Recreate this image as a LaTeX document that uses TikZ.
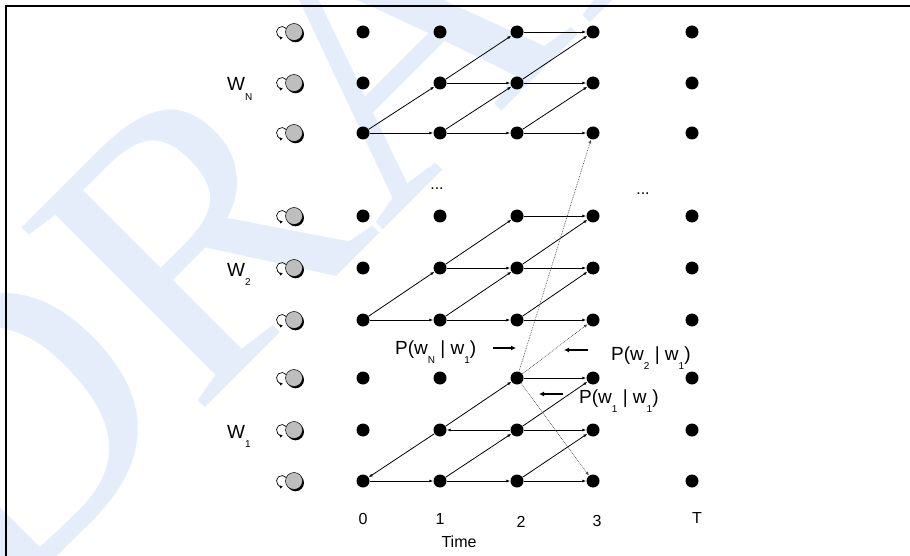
\documentclass[tikz,border=0pt]{standalone}
\usepackage{fontspec}
\setmainfont{Liberation Sans}
\newfontfamily\draftfont{Liberation Serif}
\usetikzlibrary{arrows.meta}
\definecolor{draftblue}{HTML}{E5EDFB}
\definecolor{ballgray}{HTML}{BEBEBE}
\newcommand{\lowsub}[1]{\raisebox{-9.5pt}{\fontsize{10}{10}\selectfont #1}}

\begin{document}
\begin{tikzpicture}[x=1pt, y=-1pt,
    dot/.style={circle, fill=black, inner sep=0pt, minimum size=13pt},
    trans/.style={-{Latex[length=4pt,width=3pt]}, line width=0.8pt},
    jump/.style={-{Latex[length=4pt,width=3pt]}, densely dotted, line width=0.7pt, draw=black!70},
    pointer/.style={-{Latex[length=5pt,width=5pt]}, line width=1.8pt},
    word/.style={font=\fontsize{19}{19}\selectfont, inner sep=0pt, anchor=base west},
    timelbl/.style={font=\fontsize{16}{16}\selectfont, inner sep=0pt, anchor=base},
    selfloop/.pic={
      \draw[line width=0.7pt, -{Latex[length=3pt,width=3.5pt]}] (-7.8,-3.5) arc[start angle=-40, end angle=-280, radius=5.5];
      \fill[black] (1.5,1.8) circle (8.5);
      \filldraw[fill=ballgray, draw=black, line width=0.5pt] (0,0) circle (8.5);
    }
  ]
  \useasboundingbox (0,0) rectangle (910,556);
  % watermark
  \begin{scope}
    \clip (0,0) rectangle (910,556);
    \node[font=\draftfont\fontsize{392}{392}\selectfont, text=draftblue, inner sep=0pt, rotate=45, anchor=base west] (draft) at (-5,618) {DRAFT};
  \end{scope}
  \draw[line width=2.5pt] (6,560) -- (6,6) -- (914,6);

  % states and time slices
  \foreach \y [count=\i] in {481,430,378,320,268,216,133,83,32} {
    \pic (loop\i) at (294,\y) {selfloop};
    \foreach \x/\c in {363/0,440/1,517/2,593/3,692/T}
      \node[dot] (r\i-\c) at (\x,\y) {};
  }

  % words W_2 and W_N
  \foreach \b in {4,7} {
    \foreach \ta/\tb in {0/1,1/2,2/3} {
      \foreach \j in {0,...,\ta} {
        \pgfmathtruncatemacro{\lo}{\b+\j}
        \pgfmathtruncatemacro{\hi}{\lo+1}
        \draw[trans] (r\lo-\ta) -- (r\lo-\tb);
        \ifnum\j<2 \draw[trans] (r\lo-\ta) -- (r\hi-\tb); \fi
      }
    }
  }

  % word W_1
  \draw[trans] (r1-0) -- (r1-1);
  \draw[trans] (r2-1) -- (r1-0);
  \draw[trans] (r1-1) -- (r1-2);
  \draw[trans] (r1-1) -- (r2-2);
  \draw[trans] (r2-2) -- (r2-1);
  \draw[trans] (r2-1) -- (r3-2);
  \draw[trans] (r1-2) -- (r1-3);
  \draw[trans] (r1-2) -- (r2-3);
  \draw[trans] (r2-2) -- (r2-3);
  \draw[trans] (r2-2) -- (r3-3);
  \draw[trans] (r3-2) -- (r3-3);

  % word transitions
  \draw[jump] (r3-2) -- (r7-3);
  \draw[jump] (r3-2) -- (r4-3);
  \draw[jump] (r3-2) -- (r1-3);

  % labels
  \node[word] (wn) at (227,91) {W\lowsub{N}};
  \node[word] (w2) at (227,276) {W\lowsub{2}};
  \node[word] (w1) at (227,438) {W\lowsub{1}};
  \node[word] (pn) at (395,354) {P(w\lowsub{N} | w\lowsub{1})};
  \node[word] (p2) at (611,360) {P(w\lowsub{2} | w\lowsub{1})};
  \node[word] (p1) at (579,403) {P(w\lowsub{1} | w\lowsub{1})};
  \coordinate (pn-tip) at (516,348);
  \coordinate (p2-tip) at (564,350);
  \coordinate (p1-tip) at (539,394);
  \draw[pointer] ([xshift=-23pt]pn-tip) -- (pn-tip);
  \draw[pointer] ([xshift=24pt]p2-tip) -- (p2-tip);
  \draw[pointer] ([xshift=24pt]p1-tip) -- (p1-tip);

  \node[timelbl] (gap1) at (437,190) {...};
  \node[timelbl] (gap2) at (643,195) {...};

  % time axis
  \node[timelbl] (t0) at (363,524) {0};
  \node[timelbl] (t1) at (440,524) {1};
  \node[timelbl] (t2) at (521,527) {2};
  \node[timelbl] (t3) at (597,526) {3};
  \node[timelbl] (tT) at (697,523) {T};
  \node[timelbl] (time) at (459,547) {Time};
\end{tikzpicture}
\end{document}
